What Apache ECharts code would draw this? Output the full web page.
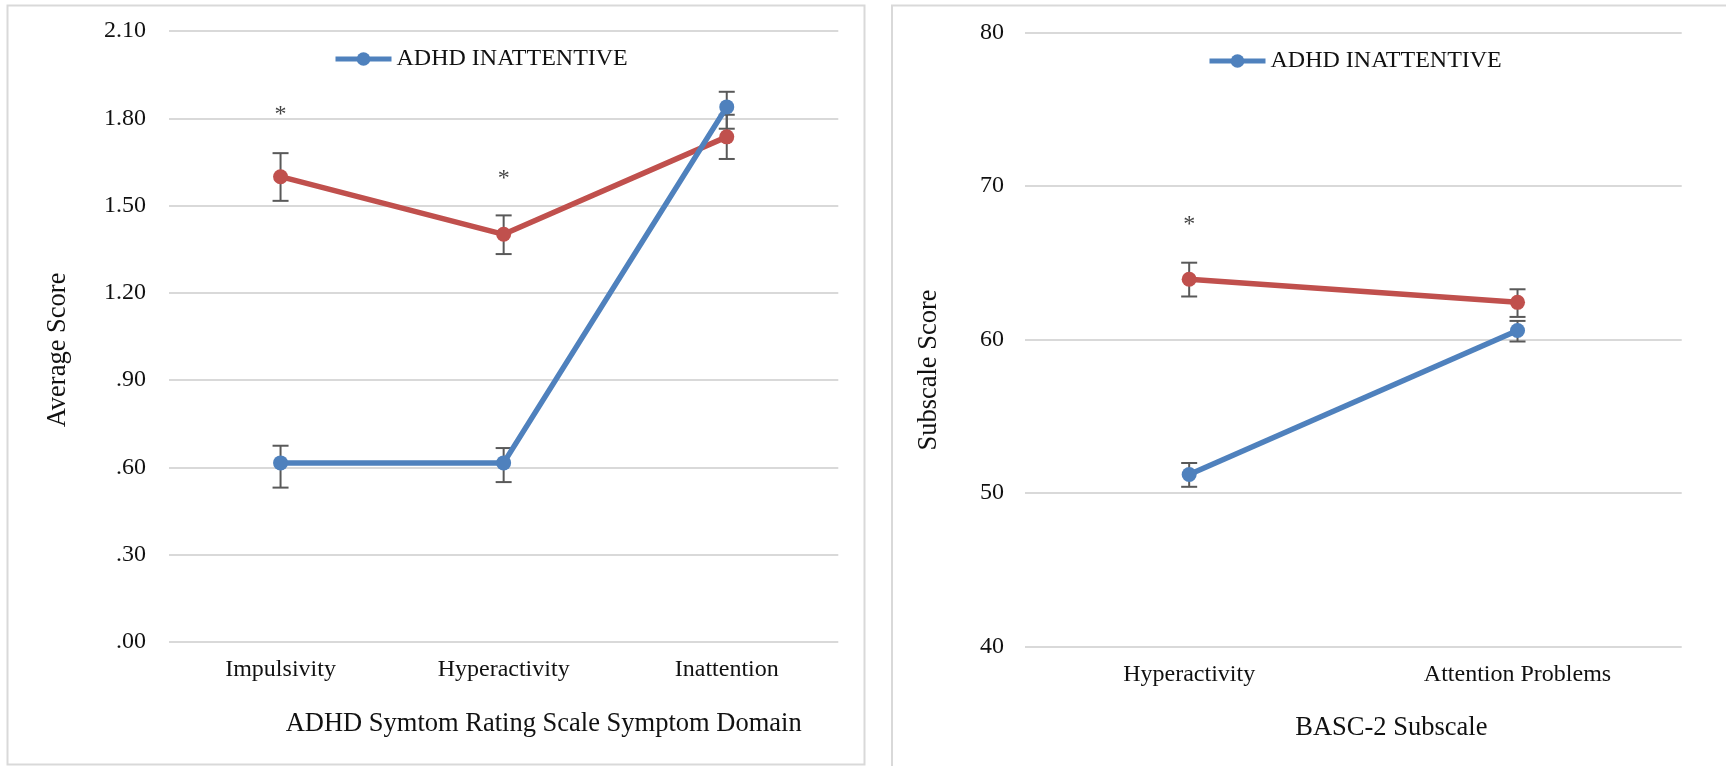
<!DOCTYPE html>
<html>
<head>
<meta charset="utf-8">
<title>ADHD subtype symptom profiles</title>
<script src="https://cdn.jsdelivr.net/npm/echarts@6/dist/echarts.min.js"></script>
<style>
  html, body { margin: 0; padding: 0; background: #ffffff; }
  #chart { width: 1726px; height: 766px; }
</style>
</head>
<body>
<div id="chart"></div>
<script>
// ---- Left panel: ADHD Symptom Rating Scale, average item score per domain ----
const domainCategories = ['Impulsivity', 'Hyperactivity', 'Inattention'];
const domainInattentive = [0.615, 0.615, 1.839];
const domainInattentiveErrUp = [0.059, 0.051, 0.052];
const domainInattentiveErrDown = [0.085, 0.066, 0.075];
const domainCombined = [1.599, 1.401, 1.736];
const domainCombinedErrUp = [0.081, 0.065, 0.076];
const domainCombinedErrDown = [0.083, 0.068, 0.076];
const domainStars = [['Impulsivity', 1.825], ['Hyperactivity', 1.605]];
const domainTicks = { min: 0, max: 2.1, step: 0.3 };

// ---- Right panel: BASC-2 subscale T scores ----
const subscaleCategories = ['Hyperactivity', 'Attention Problems'];
const subscaleInattentive = [51.21, 60.59];
const subscaleInattentiveErrUp = [0.75, 0.62];
const subscaleInattentiveErrDown = [0.80, 0.72];
const subscaleCombined = [63.92, 62.42];
const subscaleCombinedErrUp = [1.08, 0.85];
const subscaleCombinedErrDown = [1.12, 0.95];
const subscaleStars = [['Hyperactivity', 67.73]];
const subscaleTicks = { min: 40, max: 80, step: 10 };

const legendName = 'ADHD INATTENTIVE';
const otherName = 'ADHD COMBINED';

const FONT = 'Liberation Serif, Times New Roman, serif';
const BLUE = '#4f81bd';
const RED = '#c0504d';
const BAR = '#595959';
const GRID = '#d9d9d9';

function lineSeries(name, values, color, axisIdx) {
  return {
    name: name,
    type: 'line',
    xAxisIndex: axisIdx,
    yAxisIndex: axisIdx,
    data: values,
    z: 3,
    symbol: 'circle',
    symbolSize: 15,
    showSymbol: true,
    color: color,
    lineStyle: { color: color, width: 5.5 },
    itemStyle: { color: color },
    emphasis: { disabled: true },
    animation: false
  };
}

// Error whiskers (value - down .. value + up) with short caps
function errorBars(values, up, down, axisIdx) {
  return {
    type: 'custom',
    xAxisIndex: axisIdx,
    yAxisIndex: axisIdx,
    z: 2,
    silent: true,
    animation: false,
    data: values.map((v, i) => [i, v - down[i], v + up[i]]),
    encode: { x: 0, y: [1, 2] },
    renderItem: function (params, api) {
      const lo = api.coord([api.value(0), api.value(1)]);
      const hi = api.coord([api.value(0), api.value(2)]);
      const half = 8;
      const st = { stroke: BAR, lineWidth: 2 };
      return {
        type: 'group',
        children: [
          { type: 'line', shape: { x1: hi[0], y1: hi[1], x2: lo[0], y2: lo[1] }, style: st },
          { type: 'line', shape: { x1: hi[0] - half, y1: hi[1], x2: hi[0] + half, y2: hi[1] }, style: st },
          { type: 'line', shape: { x1: lo[0] - half, y1: lo[1], x2: lo[0] + half, y2: lo[1] }, style: st }
        ]
      };
    }
  };
}

// Significance asterisks above the compared points
function starSeries(points, axisIdx) {
  return {
    type: 'scatter',
    xAxisIndex: axisIdx,
    yAxisIndex: axisIdx,
    data: points,
    symbol: 'circle',
    symbolSize: 1,
    itemStyle: { color: 'rgba(0,0,0,0)' },
    silent: true,
    animation: false,
    label: {
      show: true,
      position: 'inside',
      formatter: '*',
      fontFamily: FONT,
      fontSize: 24,
      color: '#111111',
      offset: [0, 4]
    }
  };
}

function categoryAxis(cats, gridIdx, name, nameGap, shiftX) {
  return {
    type: 'category',
    gridIndex: gridIdx,
    data: cats,
    boundaryGap: true,
    axisLine: { show: false },
    axisTick: { show: false },
    splitLine: { show: false },
    axisLabel: { fontFamily: FONT, fontSize: 24, color: '#111111', margin: 16 },
    name: name,
    nameLocation: 'middle',
    nameGap: nameGap,
    nameTextStyle: {
      fontFamily: FONT, fontSize: 26.5, color: '#111111',
      padding: [0, 0, 0, shiftX * 2]
    }
  };
}

function valueAxis(ticks, gridIdx, name, nameGap, shiftDown, labelMargin, fmt) {
  return {
    type: 'value',
    gridIndex: gridIdx,
    min: ticks.min,
    max: ticks.max,
    interval: ticks.step,
    axisLine: { show: false },
    axisTick: { show: false },
    splitLine: { show: true, lineStyle: { color: GRID, width: 2 } },
    axisLabel: { fontFamily: FONT, fontSize: 24, color: '#111111', margin: labelMargin, formatter: fmt },
    name: name,
    nameLocation: 'middle',
    nameGap: nameGap,
    nameTextStyle: {
      fontFamily: FONT, fontSize: 26.5, color: '#111111',
      padding: [0, shiftDown * 2, 0, 0]
    }
  };
}

function legendAt(left, top) {
  return {
    data: [legendName],
    left: left,
    top: top,
    padding: 0,
    itemWidth: 56,
    itemHeight: 17,
    selectedMode: false,
    lineStyle: { width: 5 },
    textStyle: { fontFamily: FONT, fontSize: 24, color: '#111111' }
  };
}

const chart = echarts.init(document.getElementById('chart'), null, { renderer: 'canvas' });

chart.setOption({
  backgroundColor: '#ffffff',
  animation: false,
  graphic: [
    { type: 'rect', silent: true, shape: { x: 7.5, y: 5.5, width: 857, height: 759 },
      style: { fill: 'none', stroke: GRID, lineWidth: 2 } },
    { type: 'rect', silent: true, shape: { x: 892, y: 5.5, width: 900, height: 900 },
      style: { fill: 'none', stroke: GRID, lineWidth: 2 } }
  ],
  legend: [legendAt(333, 47), legendAt(1207, 49)],
  grid: [
    { left: 169, top: 31, width: 669.3, height: 610.75 },
    { left: 1025, top: 32.3, width: 656.7, height: 614.4 }
  ],
  xAxis: [
    categoryAxis(domainCategories, 0, 'ADHD Symtom Rating Scale Symptom Domain', 69, 40),
    categoryAxis(subscaleCategories, 1, 'BASC-2 Subscale', 68, 38)
  ],
  yAxis: [
    valueAxis(domainTicks, 0, 'Average Score', 97, 13.6, 23,
      v => v.toFixed(2).replace(/^0/, '')),
    valueAxis(subscaleTicks, 1, 'Subscale Score', 82, 30.5, 21,
      v => String(v))
  ],
  series: [
    errorBars(domainCombined, domainCombinedErrUp, domainCombinedErrDown, 0),
    errorBars(domainInattentive, domainInattentiveErrUp, domainInattentiveErrDown, 0),
    lineSeries(otherName, domainCombined, RED, 0),
    lineSeries(legendName, domainInattentive, BLUE, 0),
    starSeries(domainStars, 0),
    errorBars(subscaleCombined, subscaleCombinedErrUp, subscaleCombinedErrDown, 1),
    errorBars(subscaleInattentive, subscaleInattentiveErrUp, subscaleInattentiveErrDown, 1),
    lineSeries(otherName, subscaleCombined, RED, 1),
    lineSeries(legendName, subscaleInattentive, BLUE, 1),
    starSeries(subscaleStars, 1)
  ]
});
</script>
</body>
</html>
